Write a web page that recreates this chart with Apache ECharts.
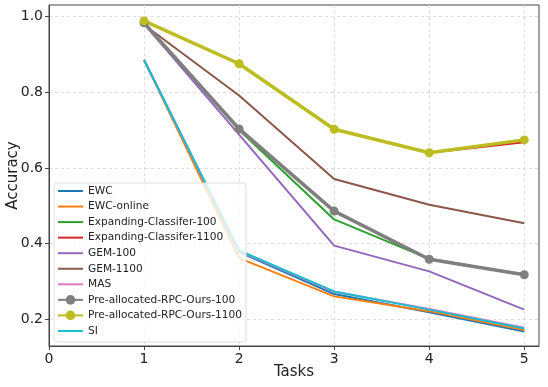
<!DOCTYPE html>
<html>
<head>
<meta charset="utf-8">
<script src="https://cdn.jsdelivr.net/npm/echarts@6/dist/echarts.min.js"></script>
<style>
  html, body { margin: 0; padding: 0; background: #fff; }
  #main { width: 548px; height: 387px; }
</style>
</head>
<body>
<div id="main"></div>
<script>
const tasks = [1, 2, 3, 4, 5];
const xTicks = [0, 1, 2, 3, 4, 5];
const yTicks = [0.2, 0.4, 0.6, 0.8, 1.0];

const ewc = [0.885, 0.378, 0.267, 0.219, 0.168];
const ewcOnline = [0.885, 0.362, 0.261, 0.222, 0.172];
const expand100 = [0.983, 0.700, 0.464, 0.360, 0.318];
const expand1100 = [0.988, 0.875, 0.702, 0.640, 0.668];
const gem100 = [0.980, 0.688, 0.395, 0.327, 0.226];
const gem1100 = [0.978, 0.791, 0.571, 0.503, 0.454];
const mas = [0.885, 0.380, 0.273, 0.228, 0.178];
const rpc100 = [0.983, 0.703, 0.486, 0.359, 0.318];
const rpc1100 = [0.988, 0.875, 0.702, 0.640, 0.674];
const si = [0.885, 0.382, 0.274, 0.226, 0.176];

const chart = echarts.init(document.getElementById('main'), null, { renderer: 'canvas' });

function pts(arr) {
  return tasks.map((t, i) => [t, arr[i]]);
}

function plain(name, arr, color) {
  return {
    name: name,
    type: 'line',
    data: pts(arr),
    symbol: 'none',
    color: color,
    lineStyle: { width: 2, color: color },
    animation: false
  };
}

function marked(name, arr, color) {
  return {
    name: name,
    type: 'line',
    data: pts(arr),
    symbol: 'circle',
    symbolSize: 9,
    color: color,
    itemStyle: { color: color },
    lineStyle: { width: 3.5, color: color },
    animation: false
  };
}

const font = 'DejaVu Sans';
const withMarker = ['Pre-allocated-RPC-Ours-100', 'Pre-allocated-RPC-Ours-1100'];
const legendNames = ['EWC', 'EWC-online', 'Expanding-Classifer-100', 'Expanding-Classifer-1100',
  'GEM-100', 'GEM-1100', 'MAS', 'Pre-allocated-RPC-Ours-100',
  'Pre-allocated-RPC-Ours-1100', 'SI'];

const option = {
  backgroundColor: '#ffffff',
  textStyle: { fontFamily: font },
  grid: {
    left: 49, right: 9, top: 5, bottom: 41,
    containLabel: false,
    outerBoundsMode: 'none',
    show: true, borderColor: '#444', borderWidth: 1
  },
  legend: {
    orient: 'vertical',
    left: 54, top: 183,
    padding: [2, 4, 5, 3],
    itemWidth: 25, itemHeight: 12, itemGap: 3.55,
    backgroundColor: 'rgba(255,255,255,0.8)',
    borderColor: '#ddd', borderWidth: 1, borderRadius: 3,
    textStyle: { fontSize: 10.6, color: '#222', fontFamily: font, lineHeight: 12 },
    data: legendNames.map(n => withMarker.indexOf(n) >= 0
      ? { name: n }
      : { name: n, itemStyle: { opacity: 0 } })
  },
  xAxis: {
    type: 'value',
    min: 0, max: 5.155,
    name: 'Tasks',
    nameLocation: 'middle',
    nameGap: 19,
    nameMoveOverlap: false,
    nameTextStyle: { fontSize: 15, color: '#222' },
    axisLine: { show: true, onZero: false, lineStyle: { color: '#444' } },
    axisTick: { show: true, length: 4, lineStyle: { color: '#444' }, customValues: xTicks },
    axisLabel: { fontSize: 14, color: '#222', margin: 6, customValues: xTicks },
    splitLine: { show: true, lineStyle: { color: '#ddd', type: [3, 3] } }
  },
  yAxis: {
    type: 'value',
    min: 0.13, max: 1.03,
    name: 'Accuracy',
    nameLocation: 'middle',
    nameGap: 28,
    nameMoveOverlap: false,
    nameTextStyle: { fontSize: 15, color: '#222' },
    axisLine: { show: true, onZero: false, lineStyle: { color: '#444' } },
    axisTick: { show: true, length: 4, lineStyle: { color: '#444' }, customValues: yTicks },
    axisLabel: { fontSize: 14, color: '#222', margin: 6, customValues: yTicks,
      formatter: v => v.toFixed(1) },
    splitLine: { show: true, lineStyle: { color: '#ddd', type: [3, 3] } }
  },
  series: [
    plain('EWC', ewc, '#1f77b4'),
    plain('EWC-online', ewcOnline, '#ff7f0e'),
    plain('Expanding-Classifer-100', expand100, '#2ca02c'),
    plain('Expanding-Classifer-1100', expand1100, '#d62728'),
    plain('GEM-100', gem100, '#9467bd'),
    plain('GEM-1100', gem1100, '#8c564b'),
    plain('MAS', mas, '#e377c2'),
    marked('Pre-allocated-RPC-Ours-100', rpc100, '#7f7f7f'),
    marked('Pre-allocated-RPC-Ours-1100', rpc1100, '#bcbd22'),
    plain('SI', si, '#17becf')
  ]
};

chart.setOption(option);
</script>
</body>
</html>
